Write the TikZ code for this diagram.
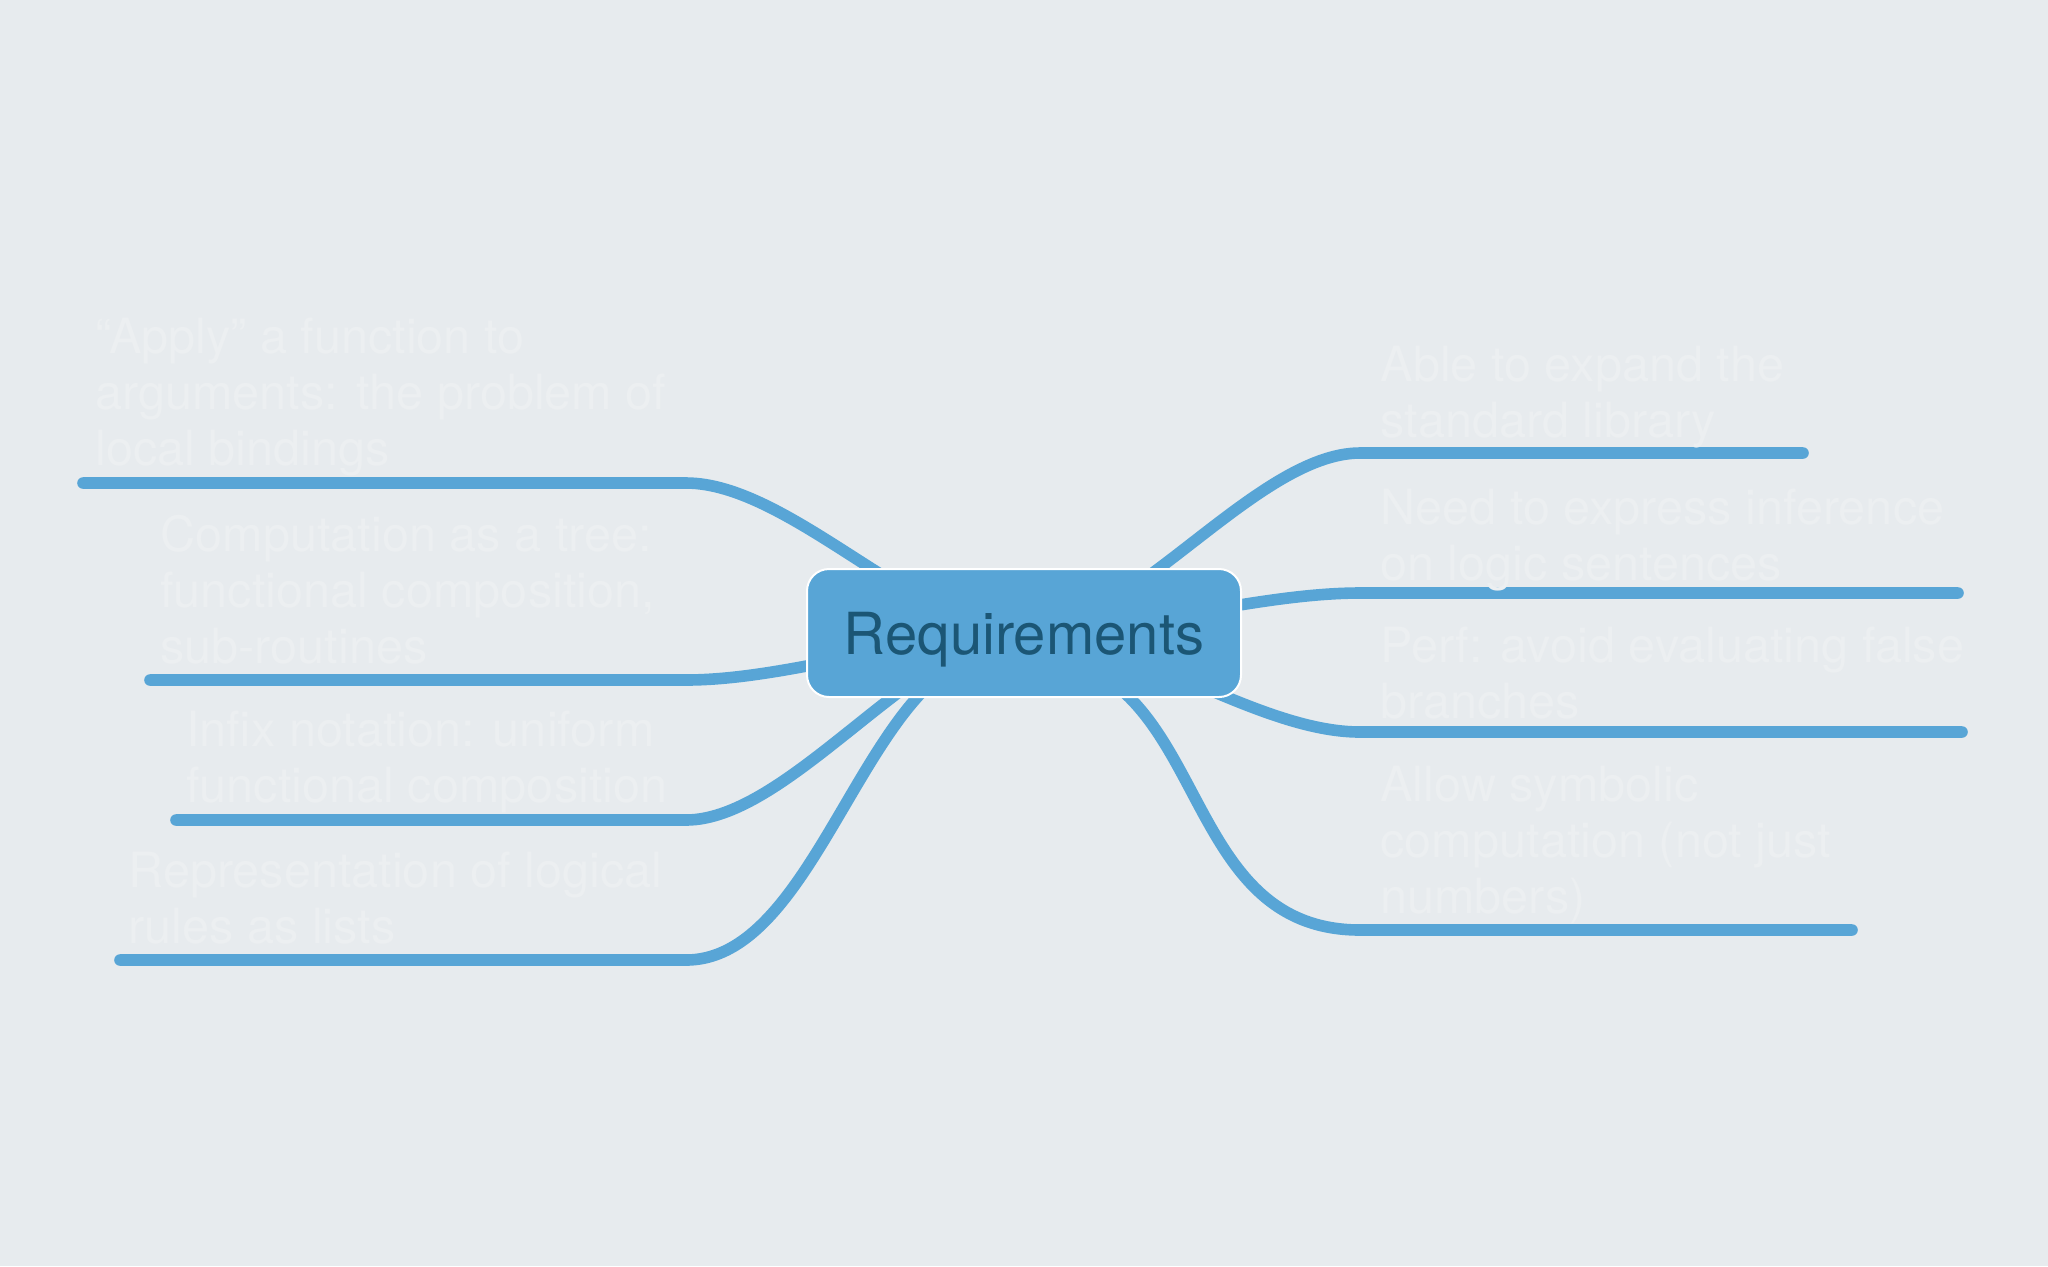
\documentclass[tikz,border=0pt]{standalone}
\usepackage{fontspec}
\setmainfont{TeX Gyre Heros}
\usetikzlibrary{calc}
\definecolor{bgc}{HTML}{E7EBEE}
\definecolor{linec}{HTML}{58A5D6}
\definecolor{labelc}{HTML}{ECEFF1}
\definecolor{titlec}{HTML}{1B5675}
\pgfdeclarelayer{bglayer}
\pgfdeclarelayer{linelayer}
\pgfsetlayers{bglayer,linelayer,main}
\tikzset{
  branch/.style={draw=linec, line width=5.8pt, line cap=round},
  centerbox/.style={draw=white, line width=1pt, fill=linec, rounded corners=11pt,
    minimum width=217pt, minimum height=64pt, inner sep=0pt, text depth=0pt,
    text=titlec, font=\fontsize{29}{34}\selectfont},
  labeltext/.style={anchor=base west, inner sep=0pt, align=left, text=labelc,
    font=\fontsize{24.3}{28}\selectfont}
}
\begin{document}
\begin{tikzpicture}[x=0.5pt, y=-0.5pt]
\useasboundingbox (0,0) rectangle (2048,1266);
\begin{pgfonlayer}{bglayer}
\fill[bgc] (0,0) rectangle (2048,1266);
\end{pgfonlayer}

\node[centerbox] (req) at (1024,633) {Requirements};

% points inside the central node where the branches meet
\coordinate (aL4) at (1004,650);
\coordinate (aR4) at (1024,655);

% line ends (free end, knee)
\coordinate (eL1) at (83,483);   \coordinate (kL1) at (686,483);
\coordinate (eL2) at (150,680);  \coordinate (kL2) at (686,680);
\coordinate (eL3) at (176,820);  \coordinate (kL3) at (686,820);
\coordinate (eL4) at (120,960);  \coordinate (kL4) at (686,960);
\coordinate (eR1) at (1803,453); \coordinate (kR1) at (1360,453);
\coordinate (eR2) at (1958,593); \coordinate (kR2) at (1360,593);
\coordinate (eR3) at (1962,732); \coordinate (kR3) at (1360,732);
\coordinate (eR4) at (1852,930); \coordinate (kR4) at (1360,930);

\begin{pgfonlayer}{linelayer}
\draw[branch] (eL1) -- (kL1) .. controls +(104,0) and +(-104,0) .. (req.center);
\draw[branch] (eL2) -- (kL2) .. controls +(104,0) and +(-104,0) .. (req.center);
\draw[branch] (eL3) -- (kL3) .. controls +(104,0) and +(-104,0) .. (req.center);
\draw[branch] (eL4) -- (kL4) .. controls +(136,0) and +(-136,0) .. (aL4);
\draw[branch] (eR1) -- (kR1) .. controls +(-104,0) and +(104,0) .. (req.center);
\draw[branch] (eR2) -- (kR2) .. controls +(-104,0) and +(104,0) .. (req.center);
\draw[branch] (eR3) -- (kR3) .. controls +(-104,0) and +(104,0) .. (req.center);
\draw[branch] (eR4) -- (kR4) .. controls +(-190,0) and +(190,0) .. (aR4);
\end{pgfonlayer}

% text nodes: base anchor = baseline of the last line
\node[labeltext] (tL1) at (95,465) {“Apply” a function to\\arguments: the problem of\\local bindings};
\node[labeltext] (tL2) at (160,663) {Computation as a tree:\\functional composition,\\sub-routines};
\node[labeltext] (tL3) at (186,802) {Infix notation: uniform\\functional composition};
\node[labeltext] (tL4) at (128,943) {Representation of logical\\rules as lists};

\node[labeltext] (tR1) at (1380,437) {Able to expand the\\standard library};
\node[labeltext] (tR2) at (1380,580) {Need to express inference\\on logic sentences};
\node[labeltext] (tR3) at (1380,718) {Perf: avoid evaluating false\\branches};
\node[labeltext] (tR4) at (1380,913) {Allow symbolic\\computation (not just\\numbers)};
\end{tikzpicture}
\end{document}
